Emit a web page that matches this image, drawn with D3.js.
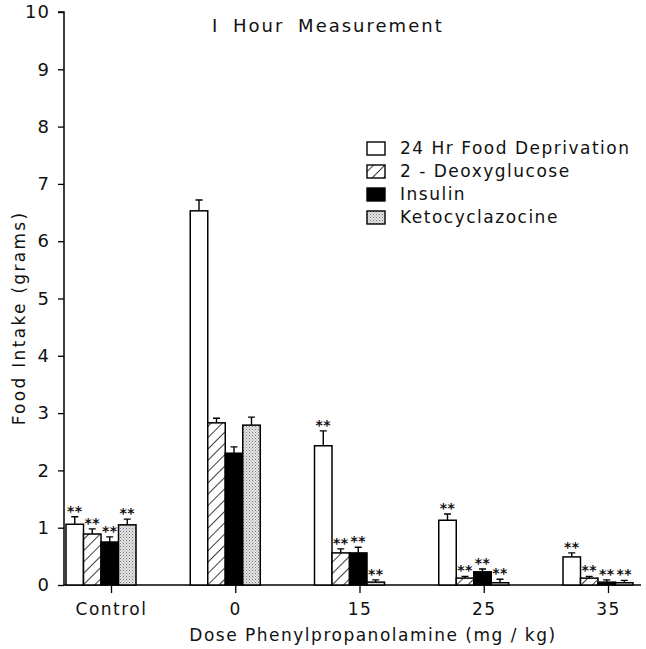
<!DOCTYPE html>
<html lang="en">
<head>
<meta charset="UTF-8">
<title>1 Hour Measurement</title>
<script src="https://d3js.org/d3.v7.min.js"></script>
<style>
  body { margin: 0; background: #fff; }
  text { font-family: "DejaVu Sans", sans-serif; fill: #111; }
</style>
</head>
<body>
<div id="chart"></div>
<script>
// chart data
const groups = ["Control", "0", "15", "25", "35"];
const seriesNames = ["24 Hr Food Deprivation", "2 - Deoxyglucose", "Insulin", "Ketocyclazocine"];
const deprivation = [1.06, 6.53, 2.43, 1.13, 0.49];
const deoxyglucose = [0.89, 2.83, 0.56, 0.12, 0.12];
const insulin = [0.75, 2.30, 0.56, 0.23, 0.05];
const ketocyclazocine = [1.05, 2.79, 0.05, 0.04, 0.04];
const deprivationErr = [0.13, 0.19, 0.26, 0.11, 0.07];
const deoxyglucoseErr = [0.09, 0.08, 0.07, 0.03, 0.03];
const insulinErr = [0.09, 0.11, 0.10, 0.05, 0.04];
const ketocyclazocineErr = [0.10, 0.14, 0.04, 0.06, 0.04];
// "**" marks, 1 = significant
const signif = [
  [1, 0, 1, 1, 1],
  [1, 0, 1, 1, 1],
  [1, 0, 1, 1, 1],
  [1, 0, 1, 1, 1]
];
const yTicks = [0, 1, 2, 3, 4, 5, 6, 7, 8, 9, 10];

const values = [deprivation, deoxyglucose, insulin, ketocyclazocine];
const errors = [deprivationErr, deoxyglucoseErr, insulinErr, ketocyclazocineErr];
const fills = ["#fff", "url(#hatch)", "#000", "url(#dots)"];

const W = 646, H = 649;
const svg = d3.select("#chart").append("svg")
  .attr("width", W).attr("height", H);

const defs = svg.append("defs");
const hatch = defs.append("pattern")
  .attr("id", "hatch").attr("patternUnits", "userSpaceOnUse")
  .attr("width", 8).attr("height", 8)
  .attr("patternTransform", "rotate(45)");
hatch.append("rect").attr("width", 8).attr("height", 8).attr("fill", "#fff");
hatch.append("line").attr("x1", 0).attr("y1", 0).attr("x2", 0).attr("y2", 8)
  .attr("stroke", "#000").attr("stroke-width", 1.5);

const dots = defs.append("pattern")
  .attr("id", "dots").attr("patternUnits", "userSpaceOnUse")
  .attr("width", 3).attr("height", 3);
dots.append("rect").attr("width", 3).attr("height", 3).attr("fill", "#e4e4e4");
dots.append("rect").attr("x", 0).attr("y", 0).attr("width", 1).attr("height", 1).attr("fill", "#777");
dots.append("rect").attr("x", 1.5).attr("y", 1.5).attr("width", 1).attr("height", 1).attr("fill", "#999");

const axisX = 64;
const y = d3.scaleLinear().domain([0, 10]).range([585, 12]);
const xGroup = d3.scalePoint().domain(groups).range([111, 608]);
// bars sit so that the tick lands under the third bar
const xBar = d3.scaleBand().domain(d3.range(4)).range([-45, 25]).padding(0);

// y axis
const yAxis = svg.append("g").attr("transform", `translate(${axisX},0)`)
  .call(d3.axisLeft(y).tickValues(yTicks).tickSize(6).tickPadding(8));
yAxis.select(".domain").attr("stroke", "#000").attr("stroke-width", 1.5)
  .attr("d", `M-6,${y(10)}H0V${y(0)}`);
yAxis.selectAll(".tick line").attr("stroke", "#000").attr("stroke-width", 1.3);
yAxis.selectAll(".tick text")
  .style("font-family", "DejaVu Sans, sans-serif").style("font-size", "18px")
  .style("letter-spacing", "1px").attr("fill", "#111");

// x axis
const xAxis = svg.append("g").attr("transform", `translate(0,${y(0)})`)
  .call(d3.axisBottom(xGroup).tickSize(8).tickPadding(10));
xAxis.select(".domain").attr("stroke", "#000").attr("stroke-width", 1.5)
  .attr("d", `M${axisX},0H641`);
xAxis.selectAll(".tick line").attr("stroke", "#000").attr("stroke-width", 1.3);
xAxis.selectAll(".tick text")
  .style("font-family", "DejaVu Sans, sans-serif").style("font-size", "17px")
  .style("letter-spacing", "1.5px").attr("fill", "#111");

// bars
const cells = [];
values.forEach((vals, s) => {
  vals.forEach((v, g) => {
    cells.push({ s, g: groups[g], v, e: errors[s][g], star: signif[s][g] });
  });
});

const bw = xBar.bandwidth();
const barG = svg.append("g");

barG.selectAll(".err")
  .data(cells).enter().append("path")
  .attr("class", "err")
  .attr("d", d => {
    const cx = xGroup(d.g) + xBar(d.s) + bw / 2;
    return `M${cx},${y(d.v)}V${y(d.v + d.e)}M${cx - 3.5},${y(d.v + d.e)}H${cx + 3.5}`;
  })
  .attr("stroke", "#000").attr("stroke-width", 1.4).attr("fill", "none");

barG.selectAll(".bar")
  .data(cells).enter().append("rect")
  .attr("class", "bar")
  .attr("x", d => xGroup(d.g) + xBar(d.s))
  .attr("y", d => y(d.v))
  .attr("width", bw)
  .attr("height", d => y(0) - y(d.v))
  .attr("fill", d => fills[d.s])
  .attr("stroke", "#000").attr("stroke-width", 1.5);

barG.selectAll(".star")
  .data(cells.filter(d => d.star)).enter().append("text")
  .attr("class", "star")
  .attr("x", d => xGroup(d.g) + xBar(d.s) + bw / 2)
  .attr("y", d => y(d.v + d.e) - 1)
  .attr("text-anchor", "middle")
  .attr("fill", "#000")
  .style("font-size", "14px").style("font-weight", "bold")
  .style("letter-spacing", "0.5px")
  .text("**");

// title
svg.append("text")
  .attr("x", 212).attr("y", 32)
  .style("font-size", "18px").style("letter-spacing", "2px")
  .style("word-spacing", "6px")
  .text("I Hour Measurement");

// axis titles
svg.append("text")
  .attr("x", 373).attr("y", 641)
  .attr("text-anchor", "middle")
  .style("font-size", "17px").style("letter-spacing", "1.5px")
  .text("Dose Phenylpropanolamine (mg / kg)");

svg.append("text")
  .attr("transform", "translate(25,318) rotate(-90)")
  .attr("text-anchor", "middle")
  .style("font-size", "17px").style("letter-spacing", "2.3px")
  .text("Food Intake (grams)");

// legend
const legend = svg.append("g").attr("transform", "translate(367,148)");
seriesNames.forEach((name, i) => {
  const row = legend.append("g").attr("transform", `translate(0,${i * 23})`);
  row.append("rect")
    .attr("x", 0).attr("y", -6).attr("width", 18).attr("height", 13)
    .attr("fill", fills[i]).attr("stroke", "#000").attr("stroke-width", 1.4);
  row.append("text")
    .attr("x", 33).attr("y", 6)
    .style("font-size", "17px").style("letter-spacing", "1.5px")
    .text(name);
});
</script>
</body>
</html>
